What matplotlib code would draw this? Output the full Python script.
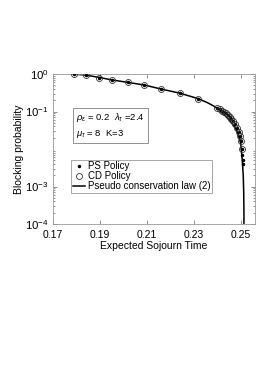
import numpy as np
import matplotlib
matplotlib.use("Agg")
import matplotlib.pyplot as plt
from matplotlib.ticker import LogLocator, NullFormatter

plt.rcParams['font.family'] = ['Liberation Sans', 'DejaVu Sans']
plt.rcParams['mathtext.fontset'] = 'custom'
plt.rcParams['mathtext.rm'] = 'Liberation Sans'
plt.rcParams['mathtext.it'] = 'Liberation Sans:italic'

# simulated points (PS and CD policy coincide)
sim_x = [0.179, 0.1841, 0.1897, 0.1952, 0.2020, 0.2089, 0.2162, 0.2240, 0.2317,
         0.2400, 0.2410, 0.2420, 0.2428, 0.2436, 0.2444, 0.2452, 0.2460, 0.2468,
         0.2476, 0.2484, 0.2490, 0.2495, 0.2500, 0.2503]
sim_y = [1.0, 0.94, 0.81, 0.70, 0.60, 0.51, 0.40, 0.31, 0.22,
         0.125, 0.115, 0.105, 0.097, 0.089, 0.080, 0.072, 0.064, 0.055,
         0.046, 0.037, 0.028, 0.022, 0.016, 0.010]
ps_extra_x = [0.2505, 0.2507, 0.2508]
ps_extra_y = [0.007, 0.005, 0.004]

# pseudo conservation law curve
law_x = [0.179, 0.184, 0.190, 0.195, 0.202, 0.209, 0.216, 0.224, 0.232, 0.236,
         0.2392, 0.242, 0.245, 0.247, 0.2485, 0.2499, 0.2506, 0.2510, 0.2512,
         0.2513, 0.2513]
law_y = [1.0, 0.94, 0.81, 0.70, 0.60, 0.51, 0.40, 0.31, 0.22, 0.17,
         0.132, 0.095, 0.06, 0.042, 0.029, 0.0145, 0.005, 0.002, 0.0007,
         0.0002, 0.0001]

fig = plt.figure(figsize=(2.73, 3.82), dpi=100)
ax = fig.add_axes([0.194, 0.4136, 0.74, 0.3924])

ax.plot(law_x, law_y, color='k', lw=1.1, label='Pseudo conservation law (2)', zorder=2)
ax.plot(sim_x + ps_extra_x, sim_y + ps_extra_y, ls='none', marker='.', color='k',
        ms=3, label='PS Policy', zorder=3)
ax.plot(sim_x, sim_y, ls='none', marker='o', mfc='none', mec='0.2', mew=0.6,
        ms=4.3, label='CD Policy', zorder=3)

ax.set_yscale('log')
ax.set_xlim(0.17, 0.256)
ax.set_ylim(1e-4, 1)
ax.set_xticks([0.17, 0.19, 0.21, 0.23, 0.25])
ax.set_xticklabels(['0.17', '0.19', '0.21', '0.23', '0.25'])
ax.set_yticks([1e-4, 1e-3, 1e-1, 1])
ax.set_yticklabels([r'$10^{-4}$', r'$10^{-3}$', r'$10^{-1}$', r'$10^{0}$'])
ax.yaxis.set_minor_locator(LogLocator(base=10, subs=np.arange(2, 10)))
ax.yaxis.set_minor_formatter(NullFormatter())

ax.tick_params(which='both', direction='in', top=True, right=True, labelsize=7.5,
               color='0.4', width=0.5)
ax.tick_params(axis='y', which='major', labelsize=8.2, pad=3)
ax.tick_params(axis='x', which='major', pad=4)
ax.tick_params(which='major', length=3)
ax.tick_params(which='minor', length=1.5)
for s in ax.spines.values():
    s.set_color('0.6')
    s.set_linewidth(0.6)

ax.set_xlabel('Expected Sojourn Time', fontsize=7.5, labelpad=1)
ax.set_ylabel('Blocking probability', fontsize=7.5, labelpad=1)

ax.text(0.115, 0.657, r'$\rho_\epsilon$ = 0.2  $\lambda_\tau$ =2.4' + '\n' + r'$\mu_\tau$ = 8  K=3',
        transform=ax.transAxes, fontsize=6.8, va='center', ha='left', linespacing=1.45,
        bbox=dict(boxstyle='square,pad=0.3', fc='white', ec='0.5', lw=0.6))

h, l = ax.get_legend_handles_labels()
order = [1, 2, 0]
leg = ax.legend([h[i] for i in order], [l[i] for i in order], loc='upper left',
                bbox_to_anchor=(0.09, 0.43), fontsize=7, frameon=True, fancybox=False,
                borderpad=0.2, labelspacing=0.0, handlelength=1.2, handletextpad=0.3,
                borderaxespad=0)
leg.get_frame().set_edgecolor('0.5')
leg.get_frame().set_linewidth(0.6)

fig.savefig('out.png', dpi=100)
